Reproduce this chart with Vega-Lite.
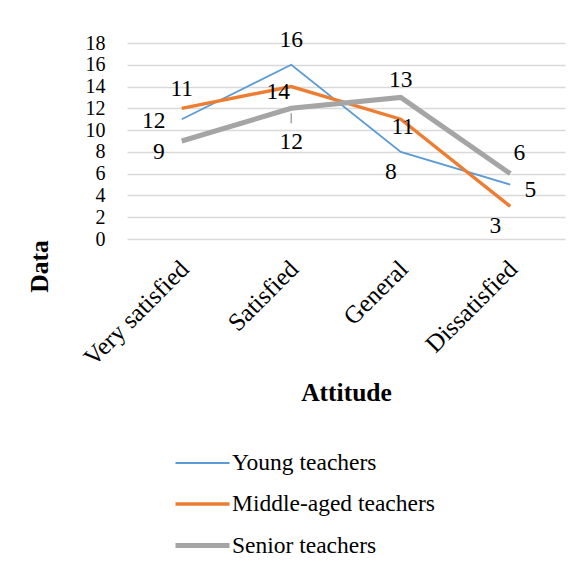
{
 "$schema": "https://vega.github.io/schema/vega-lite/v6.json",
 "width": 438, "height": 196,
 "autosize": {"type": "none"},
 "padding": {"left": 127, "top": 43, "right": 15, "bottom": 330},
 "background": "white",
 "config": {"font": "Liberation Serif", "view": {"stroke": null},
  "axis": {"labelFont": "Liberation Serif", "titleFont": "Liberation Serif"},
  "text": {"font": "Liberation Serif"}},
 "data": {"values": [
  {"attitude": "Very satisfied", "series": "Young teachers", "value": 11},
  {"attitude": "Satisfied", "series": "Young teachers", "value": 16},
  {"attitude": "General", "series": "Young teachers", "value": 8},
  {"attitude": "Dissatisfied", "series": "Young teachers", "value": 5},
  {"attitude": "Very satisfied", "series": "Middle-aged teachers", "value": 12},
  {"attitude": "Satisfied", "series": "Middle-aged teachers", "value": 14},
  {"attitude": "General", "series": "Middle-aged teachers", "value": 11},
  {"attitude": "Dissatisfied", "series": "Middle-aged teachers", "value": 3},
  {"attitude": "Very satisfied", "series": "Senior teachers", "value": 9},
  {"attitude": "Satisfied", "series": "Senior teachers", "value": 12},
  {"attitude": "General", "series": "Senior teachers", "value": 13},
  {"attitude": "Dissatisfied", "series": "Senior teachers", "value": 6}
 ]},
 "encoding": {
  "x": {"field": "attitude", "type": "nominal", "sort": ["Very satisfied", "Satisfied", "General", "Dissatisfied"],
   "scale": {"type": "point", "padding": 0.5},
   "axis": {"title": "Attitude", "labelAngle": -45, "labelAlign": "right", "labelBaseline": "top", "labelPadding": 17, "labelOffset": -6,
    "labelFontSize": 25, "labelColor": "#000", "labelLimit": 300, "labelOverlap": false, "domain": false, "ticks": false, "grid": false,
    "titleFontSize": 25.5, "titleFontWeight": "bold", "titleColor": "#000", "titleX": 219, "titleY": 153, "titleBaseline": "middle", "titleAlign": "center"}},
  "y": {"field": "value", "type": "quantitative", "scale": {"domain": [0, 18]},
   "axis": {"title": "Data", "values": [0, 2, 4, 6, 8, 10, 12, 14, 16, 18], "labelOverlap": false, "grid": true, "gridColor": "#d9d9d9", "gridWidth": 1.3,
    "domain": false, "ticks": false, "labelPadding": 22, "labelFontSize": 20, "labelColor": "#000",
    "titleFontSize": 25.5, "titleFontWeight": "bold", "titleColor": "#000", "titleX": -88, "titleY": 223, "titleAngle": -90, "titleAlign": "center", "titleBaseline": "middle"}}
 },
 "layer": [
  {"mark": {"type": "line"},
   "encoding": {
    "color": {"field": "series", "type": "nominal",
     "scale": {"domain": ["Young teachers", "Middle-aged teachers", "Senior teachers"], "range": ["#5B9BD5", "#ED7D31", "#A5A5A5"]},
     "legend": {"orient": "none", "legendX": 46, "legendY": 392, "direction": "vertical", "title": null, "symbolType": "stroke", "symbolSize": 2916, "labelFontSize": 23.5, "labelOffset": 0, "rowPadding": -11.5, "labelLimit": 400, "labelColor": "#000", "labelFont": "Liberation Serif"}},
    "strokeWidth": {"field": "series", "type": "nominal",
     "scale": {"domain": ["Young teachers", "Middle-aged teachers", "Senior teachers"], "range": [1.8, 5, 4.6]},
     "legend": {"orient": "none", "legendX": 46, "legendY": 392, "direction": "vertical", "title": null, "symbolType": "stroke", "symbolSize": 2916, "labelFontSize": 23.5, "labelOffset": 0, "rowPadding": -11.5, "labelLimit": 400, "labelColor": "#000", "labelFont": "Liberation Serif"}},
    "order": {"field": "series"}
   }},
  {"transform": [{"filter": "datum.series == 'Senior teachers' && datum.attitude == 'Satisfied'"}],
   "mark": {"type": "rule", "color": "#A5A5A5", "strokeWidth": 1.5, "yOffset": 5, "y2Offset": 15},
   "encoding": {"y2": {"field": "value"}}},
  {"transform": [{"filter": "datum.series == 'Young teachers' && datum.attitude == 'Very satisfied'"}],
   "mark": {"type": "text", "fontSize": 23.5, "color": "#000", "dx": 0, "dy": -30}, "encoding": {"text": {"field": "value"}}},
  {"transform": [{"filter": "datum.series == 'Young teachers' && datum.attitude == 'Satisfied'"}],
   "mark": {"type": "text", "fontSize": 23.5, "color": "#000", "dx": 0, "dy": -25}, "encoding": {"text": {"field": "value"}}},
  {"transform": [{"filter": "datum.series == 'Young teachers' && datum.attitude == 'General'"}],
   "mark": {"type": "text", "fontSize": 23.5, "color": "#000", "dx": -10, "dy": 20}, "encoding": {"text": {"field": "value"}}},
  {"transform": [{"filter": "datum.series == 'Young teachers' && datum.attitude == 'Dissatisfied'"}],
   "mark": {"type": "text", "fontSize": 23.5, "color": "#000", "dx": 20, "dy": 5}, "encoding": {"text": {"field": "value"}}},
  {"transform": [{"filter": "datum.series == 'Middle-aged teachers' && datum.attitude == 'Very satisfied'"}],
   "mark": {"type": "text", "fontSize": 23.5, "color": "#000", "dx": -28, "dy": 13}, "encoding": {"text": {"field": "value"}}},
  {"transform": [{"filter": "datum.series == 'Middle-aged teachers' && datum.attitude == 'Satisfied'"}],
   "mark": {"type": "text", "fontSize": 23.5, "color": "#000", "dx": -13, "dy": 5}, "encoding": {"text": {"field": "value"}}},
  {"transform": [{"filter": "datum.series == 'Middle-aged teachers' && datum.attitude == 'General'"}],
   "mark": {"type": "text", "fontSize": 23.5, "color": "#000", "dx": 2, "dy": 8}, "encoding": {"text": {"field": "value"}}},
  {"transform": [{"filter": "datum.series == 'Middle-aged teachers' && datum.attitude == 'Dissatisfied'"}],
   "mark": {"type": "text", "fontSize": 23.5, "color": "#000", "dx": -15, "dy": 20}, "encoding": {"text": {"field": "value"}}},
  {"transform": [{"filter": "datum.series == 'Senior teachers' && datum.attitude == 'Very satisfied'"}],
   "mark": {"type": "text", "fontSize": 23.5, "color": "#000", "dx": -23, "dy": 11}, "encoding": {"text": {"field": "value"}}},
  {"transform": [{"filter": "datum.series == 'Senior teachers' && datum.attitude == 'Satisfied'"}],
   "mark": {"type": "text", "fontSize": 23.5, "color": "#000", "dx": 0, "dy": 34}, "encoding": {"text": {"field": "value"}}},
  {"transform": [{"filter": "datum.series == 'Senior teachers' && datum.attitude == 'General'"}],
   "mark": {"type": "text", "fontSize": 23.5, "color": "#000", "dx": 0, "dy": -17}, "encoding": {"text": {"field": "value"}}},
  {"transform": [{"filter": "datum.series == 'Senior teachers' && datum.attitude == 'Dissatisfied'"}],
   "mark": {"type": "text", "fontSize": 23.5, "color": "#000", "dx": 9, "dy": -21}, "encoding": {"text": {"field": "value"}}}
 ]
}
